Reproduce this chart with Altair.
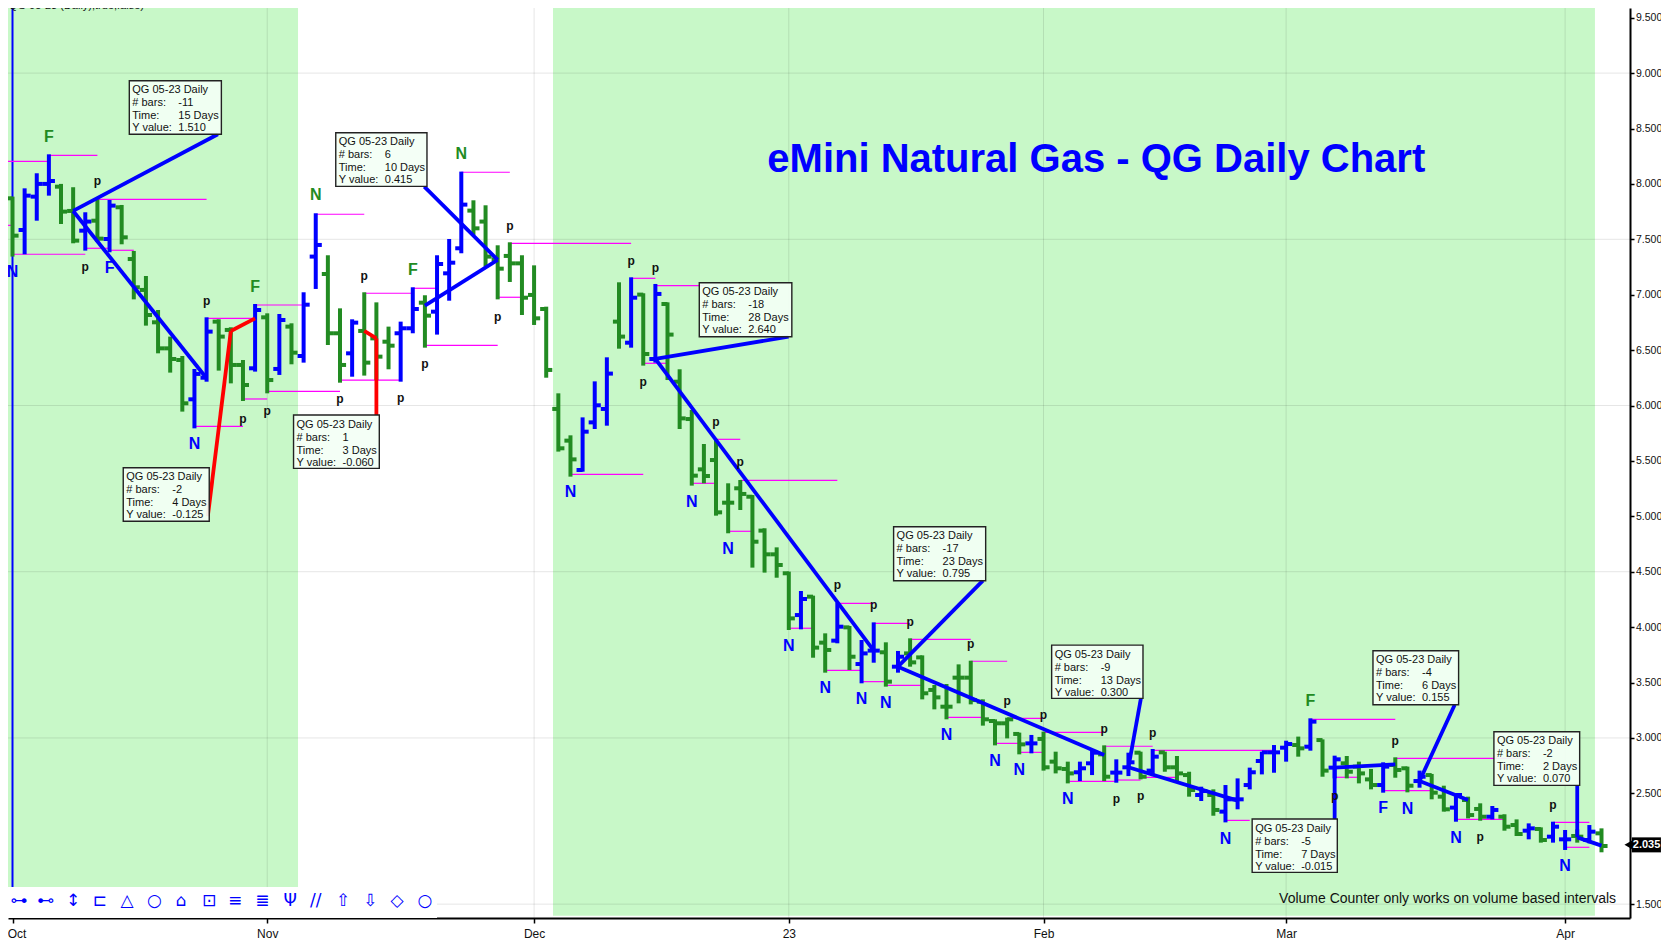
import altair as alt
import pandas as pd

# OHLC bars (bar number 0 = 1st of October)
highs = [7.885,7.960,8.096,8.267,8.0,7.97,7.744,7.861,7.855,7.81,7.395,7.169,6.862,6.622,6.447,6.33,6.796,6.778,6.706,6.411,6.916,6.832,6.826,6.742,7.022,7.735,7.356,6.877,6.778,7.022,6.931,6.712,6.757,7.067,6.995,7.356,7.503,8.111,7.852,7.807,7.446,7.473,7.356,7.265,6.892,6.11,5.731,5.893,6.218,6.435,7.112,7.157,7.013,7.097,6.931,6.327,5.96,5.653,5.698,5.298,5.328,5.192,4.892,4.72,4.501,4.326,4.284,3.944,4.221,4.01,3.884,4.043,3.863,3.785,3.899,3.745,3.478,3.487,3.664,3.697,3.348,3.168,3.183,3.048,3.027,3.057,2.876,2.786,2.786,2.891,2.933,2.807,2.867,2.876,2.9,2.876,2.837,2.695,2.56,2.536,2.575,2.635,2.732,2.876,2.936,2.975,3.012,3.177,2.987,2.84,2.837,2.786,2.72,2.78,2.825,2.741,2.705,2.675,2.569,2.5,2.47,2.41,2.386,2.311,2.265,2.229,2.193,2.244,2.169,2.175,2.214,2.184]
lows = [7.344,7.365,7.668,7.894,7.638,7.464,7.398,7.476,7.383,7.455,6.958,6.721,6.471,6.297,5.945,5.794,6.215,6.315,6.2,6.041,6.306,6.11,6.276,6.372,6.387,7.052,6.546,6.206,6.26,6.27,6.23,6.327,6.215,6.652,6.522,6.64,6.946,7.374,7.539,7.253,6.958,7.115,6.817,6.727,6.251,5.584,5.358,5.403,5.788,5.818,6.513,6.522,6.36,6.387,6.23,5.788,5.277,5.298,5.006,4.847,5.057,4.537,4.492,4.446,3.974,3.98,3.724,3.589,3.854,3.613,3.493,3.679,3.463,3.589,3.643,3.348,3.258,3.168,3.312,3.303,3.111,2.933,2.996,2.852,2.861,2.705,2.68,2.59,2.611,2.665,2.611,2.596,2.656,2.626,2.656,2.695,2.605,2.47,2.431,2.298,2.238,2.356,2.536,2.671,2.686,2.786,2.831,2.885,2.65,2.635,2.635,2.59,2.536,2.506,2.641,2.509,2.551,2.446,2.335,2.244,2.274,2.253,2.265,2.163,2.115,2.085,2.055,2.055,1.989,2.055,2.049,1.968]
opens = [7.870,7.584,7.885,8.0,7.975,7.756,7.578,7.668,7.503,7.789,7.322,7.043,6.751,6.516,6.411,6.056,6.251,6.757,6.682,6.366,6.336,6.796,6.33,6.712,6.447,7.344,7.187,6.652,6.471,6.673,6.606,6.576,6.652,6.697,6.928,6.847,7.193,7.419,7.759,7.66,7.319,7.35,7.283,6.998,6.871,5.969,5.683,5.418,5.848,5.969,6.757,6.567,7.001,6.42,6.916,6.215,5.878,5.424,5.508,5.123,5.253,5.177,4.871,4.657,4.486,4.109,4.275,3.86,3.878,3.998,3.667,3.788,3.773,3.643,3.763,3.727,3.433,3.282,3.544,3.544,3.327,3.153,3.132,3.036,2.951,2.991,2.786,2.72,2.69,2.771,2.852,2.687,2.735,2.867,2.705,2.87,2.735,2.665,2.485,2.485,2.335,2.446,2.575,2.792,2.87,2.912,2.936,2.921,2.981,2.732,2.771,2.741,2.626,2.575,2.756,2.726,2.611,2.665,2.47,2.371,2.44,2.359,2.289,2.289,2.214,2.163,2.178,2.109,2.085,2.115,2.079,2.139]
closes = [7.533,7.894,8.0,8.026,7.75,7.488,7.66,7.506,7.804,7.518,7.067,6.817,6.516,6.42,6.02,6.285,6.667,6.622,6.366,6.185,6.862,6.23,6.772,6.477,6.91,7.449,6.652,6.366,6.748,6.387,6.441,6.54,6.697,6.871,6.811,7.277,7.289,7.813,7.599,7.344,7.235,7.283,6.973,6.787,6.321,5.614,5.514,5.764,6.002,6.288,6.622,6.973,6.465,7.007,6.64,5.884,5.367,5.364,5.036,5.123,5.202,4.771,4.657,4.561,4.079,4.254,3.815,3.794,4.004,3.733,3.763,3.788,3.508,3.733,3.682,3.403,3.366,3.282,3.544,3.342,3.168,3.132,3.168,2.942,2.951,2.735,2.726,2.68,2.726,2.867,2.65,2.687,2.78,2.65,2.831,2.735,2.68,2.53,2.521,2.35,2.446,2.446,2.69,2.87,2.87,2.945,2.906,3.147,2.705,2.807,2.695,2.68,2.575,2.741,2.711,2.569,2.65,2.506,2.356,2.485,2.304,2.289,2.35,2.199,2.133,2.184,2.079,2.199,2.085,2.109,2.154,2.025]
blue_bars = [1,2,3,6,8,15,16,20,22,24,25,28,32,33,35,36,37,47,48,49,51,53,65,68,70,71,73,84,88,89,91,92,94,98,100,101,102,103,104,105,107,109,113,116,119,122,125,127,128,130]

# Axis
month_bars = [0, 21, 43, 64, 85, 105, 128]
month_names = ["Oct", "Nov", "Dec", "23", "Feb", "Mar", "Apr"]
price_ticks = [1.5,2.5,3.0,3.5,4.0,4.5,5.0,5.5,6.0,6.5,7.0,7.5,8.0,8.5,9.0,9.5]
price_grid = [1.5, 3.0, 4.5, 6.0, 7.5, 9.0]

# Session bands
band_from = [-0.371, 44.56]
band_to = [23.54, 130.46]

# Magenta swing-level lines: first bar, last bar, price
level_from = [-1,-1,3,7,0,6,8,16,20,15,19,21,25,27,29,33,34,37,40,41,46,51,53,52,56,58,59,60,64,68,67,71,70,72,74,79,77,81,82,83,85,87,90,91,93,94,100,107,114,109,113,119,127,128]
level_to = [3,0,7,16,6,8,10,20,24,19,21,27,29,32,33,35,40,41,42,51,52,53,57,54,58,60,61,68,66,71,70,74,72,75,79,82,80,83,85,85,90,91,94,93,96,104,102,114,125,111,117,123,130,130]
level_y = [8.204,7.626,8.258,7.861,7.365,7.419,7.401,6.787,6.907,5.812,6.059,6.128,7.726,6.23,7.013,7.058,6.543,8.105,6.977,7.464,5.379,7.148,7.082,6.381,5.298,5.695,4.865,5.325,3.99,4.214,3.61,4.034,3.508,3.475,3.89,3.692,3.186,2.951,3.177,2.87,3.051,2.608,2.925,2.62,2.645,2.888,2.256,3.168,2.816,2.645,2.524,2.265,2.238,2.013]

# Measured swings and their call-out leaders
seg_x = [5,5,34,40,29,30,18,18,53,53,73,73,92,92,109,109,116,116,129,129]
seg_y = [7.756,7.756,6.902,7.314,6.673,6.606,6.673,6.673,6.42,6.42,3.643,3.643,2.735,2.735,2.732,2.732,2.611,2.611,2.103,2.103]
seg_x2 = [16,16.93,40,33.95,30,30,20,16.1,71,63.98,90,80,101,93.03,114,109,120,118.9,131,129]
seg_y2 = [6.246,8.448,7.314,7.975,6.606,5.914,6.787,5.0,3.788,6.622,2.846,4.42,2.434,3.358,2.762,2.268,2.44,3.3,2.028,2.572]
seg_color = ["#0000ff"]*4 + ["#ff0000"]*4 + ["#0000ff"]*12

# Call-out boxes
box_left = [9.63,26.65,23.17,9.13,56.62,72.64,85.67,102.2,112.16,122.13]
box_right = [17.22,34.17,30.24,16.22,64.25,80.23,93.2,109.22,119.22,129.2]
box_top = [8.931,8.462,5.914,5.439,7.108,4.906,3.838,2.268,3.787,3.056]
box_bottom = [8.448,7.978,5.433,4.955,6.621,4.419,3.357,1.787,3.3,2.572]
box_bars = ["-11","6","1","-2","-18","-17","-9","-5","-4","-2"]
box_days = ["15 Days","10 Days","3 Days","4 Days","28 Days","23 Days","13 Days","7 Days","6 Days","2 Days"]
box_value = ["1.510","0.415","-0.060","-0.125","2.640","0.795","0.300","-0.015","0.155","0.070"]

# N / F markers
mark_bar = [3,0,8,20,15,25,33,37,46,56,59,64,67,70,72,77,81,83,87,100,107,113,115,119,128]
mark_y = [8.424,7.202,7.238,7.073,5.653,7.9,7.223,8.27,5.217,5.132,4.702,3.83,3.448,3.348,3.312,3.026,2.789,2.711,2.446,2.085,3.333,2.365,2.356,2.094,1.847]
mark_text = ["F","N","F","F","N","N","F","N","N","N","N","N","N","N","N","N","N","N","N","N","F","F","N","N","N"]
mark_color = ["#228b22","#0000ff","#0000ff","#228b22","#0000ff","#228b22","#228b22","#228b22"] + ["#0000ff"]*12 + ["#228b22"] + ["#0000ff"]*4

# p markers
p_bar = [7,6,16,19,21,27,29,32,34,40,41,51,53,52,58,60,68,71,74,79,82,85,90,91,93,94,114,109,121,127]
p_y = [8.026,7.25,6.943,5.878,5.951,6.059,7.172,6.068,6.375,6.799,7.62,7.304,7.241,6.209,5.852,5.49,4.38,4.2,4.05,3.848,3.333,3.207,3.081,2.449,2.476,3.045,2.975,2.476,2.103,2.395]

# Drawing-tool strip
tool_x = [0.54,2.74,5.0,7.2,9.44,11.7,13.9,16.2,18.35,20.6,22.9,25.0,27.25,29.5,31.7,34.0]
tool_glyph = ["⊶","⊷","↕","⊏","△","○","⌂","⊡","≡","≣","Ψ","//","⇧","⇩","◇","○"]

X_DOMAIN = [-0.371, 133.35]
Y_DOMAIN = [1.375, 9.5875]
xs = alt.Scale(domain=X_DOMAIN, nice=False, zero=False)
ys = alt.Scale(domain=Y_DOMAIN, nice=False, zero=False)

x_axis = alt.Axis(
    values=month_bars,
    labelExpr="%s[indexof(%s,datum.value)]" % (month_names, month_bars),
    labelOffset={"expr": "datum.value == 0 ? 4 : 0"},
    grid=False,
    title=None,
    tickSize=5,
    tickWidth=1.5,
    tickColor="#000000",
    domainColor="#000000",
    domainWidth=2,
    labelColor="#111111",
    labelFont="Liberation Sans",
    labelFontSize=12,
    labelPadding=5,
    labelFlush=False,
    labelOverlap=False,
)
y_axis = alt.Axis(
    orient="right",
    values=price_ticks,
    format=".3f",
    grid=False,
    title=None,
    tickSize=4,
    tickWidth=1.5,
    tickColor="#000000",
    domainColor="#000000",
    domainWidth=2,
    labelColor="#111111",
    labelFont="Liberation Sans",
    labelFontSize=10.5,
    labelPadding=1.5,
    labelFlush=False,
    labelOverlap=False,
)


def X(f):
    return alt.X(f, type="quantitative", scale=xs, axis=x_axis)


def Y(f):
    return alt.Y(f, type="quantitative", scale=ys, axis=y_axis)


color = alt.Color("c:N", scale=None, legend=None)
idx = list(range(len(highs)))
bar_color = ["#0000ff" if i in blue_bars else "#228b22" for i in idx]
bars = pd.DataFrame({"x": idx, "h": highs, "l": lows, "o": opens, "cl": closes, "c": bar_color})
bars["xo"] = bars.x - 0.5
bars["xc"] = bars.x + 0.5

layers = []

# bands
layers.append(
    alt.Chart(pd.DataFrame({"a": band_from, "b": band_to, "y": [1.395, 1.395], "y2": [9.5875, 9.5875]}))
    .mark_rect(color="#c8f8c8", clip=True)
    .encode(x=X("a"), x2="b", y=Y("y"), y2="y2")
)
# grid
layers.append(
    alt.Chart(pd.DataFrame({"x": month_bars}))
    .mark_rule(color="#000000", opacity=0.1, strokeWidth=1)
    .encode(x=X("x"))
)
layers.append(
    alt.Chart(pd.DataFrame({"y": price_grid}))
    .mark_rule(color="#000000", opacity=0.1, strokeWidth=1)
    .encode(y=Y("y"))
)
# cursor line at the first bar
layers.append(
    alt.Chart(pd.DataFrame({"x": [0]}))
    .mark_rule(color="#0000ff", strokeWidth=2)
    .encode(x=X("x"))
)
# levels
layers.append(
    alt.Chart(pd.DataFrame({"a": level_from, "b": level_to, "y": level_y}))
    .mark_rule(color="#ff00ff", strokeWidth=1.2, clip=True)
    .encode(x=X("a"), x2="b", y=Y("y"))
)
# OHLC
base = alt.Chart(bars)
layers.append(base.mark_rule(strokeWidth=4).encode(x=X("x"), y=Y("h"), y2="l", color=color))
layers.append(base.mark_rule(strokeWidth=4).encode(x=X("xo"), x2="x", y=Y("o"), color=color))
layers.append(base.mark_rule(strokeWidth=4).encode(x=X("x"), x2="xc", y=Y("cl"), color=color))
# swings
layers.append(
    alt.Chart(pd.DataFrame({"a": seg_x, "y": seg_y, "b": seg_x2, "y2": seg_y2, "c": seg_color}))
    .mark_rule(strokeWidth=3.8)
    .encode(x=X("a"), x2="b", y=Y("y"), y2="y2", color=color)
)
# boxes
boxes = pd.DataFrame({
    "a": box_left, "b": box_right, "t": box_top, "u": box_bottom,
    "h": ["QG 05-23 Daily"] * len(box_left),
    "v1": box_bars, "v2": box_days, "v3": box_value,
    "l1": ["# bars:"] * len(box_left), "l2": ["Time:"] * len(box_left), "l3": ["Y value:"] * len(box_left),
})
layers.append(
    alt.Chart(boxes)
    .mark_rect(fill="#f3fff5", fillOpacity=0.93, stroke="#222222", strokeWidth=1.4)
    .encode(x=X("a"), x2="b", y=Y("t"), y2="u")
)
for field, dx, dy in [("h", 3, 9.5), ("l1", 3, 22.5), ("l2", 3, 35.5), ("l3", 3, 47.5),
                      ("v1", 49, 22.5), ("v2", 49, 35.5), ("v3", 49, 47.5)]:
    layers.append(
        alt.Chart(boxes)
        .mark_text(align="left", baseline="middle", dx=dx, dy=dy, font="Liberation Sans", fontSize=11, color="#111111")
        .encode(x=X("a"), y=Y("t"), text=alt.Text(field + ":N"))
    )
# N/F
layers.append(
    alt.Chart(pd.DataFrame({"x": mark_bar, "y": mark_y, "t": mark_text, "c": mark_color}))
    .mark_text(font="Liberation Sans", fontWeight="bold", fontSize=16, baseline="middle", align="center")
    .encode(x=X("x"), y=Y("y"), text="t:N", color=color)
)
layers.append(
    alt.Chart(pd.DataFrame({"x": p_bar, "y": p_y, "t": ["p"] * len(p_bar)}))
    .mark_text(font="Liberation Sans", fontWeight="bold", fontSize=12, baseline="middle", align="center", color="#111111")
    .encode(x=X("x"), y=Y("y"), text="t:N")
)
# titles
layers.append(
    alt.Chart(pd.DataFrame({"x": [89.35], "y": [8.216], "t": ["eMini Natural Gas - QG Daily Chart"]}))
    .mark_text(font="Liberation Sans", fontWeight="bold", fontSize=40, color="#0000ff", baseline="middle", align="center")
    .encode(x=X("x"), y=Y("y"), text="t:N")
)
layers.append(
    alt.Chart(pd.DataFrame({"x": [132.2], "y": [1.55], "t": ["Volume Counter only works on volume based intervals"]}))
    .mark_text(font="Liberation Sans", fontSize=14, color="#111111", baseline="middle", align="right")
    .encode(x=X("x"), y=Y("y"), text="t:N")
)
layers.append(
    alt.Chart(pd.DataFrame({"x": [-0.3], "y": [9.56], "t": ["QG 05-23 (Daily),true,false)"]}))
    .mark_text(font="Liberation Sans", fontSize=11, color="#111111", baseline="bottom", align="left", clip=True)
    .encode(x=X("x"), y=Y("y"), text="t:N")
)
# tool strip
layers.append(
    alt.Chart(pd.DataFrame({"a": [-0.371], "b": [35.0], "y": [1.654], "y2": [1.375]}))
    .mark_rect(color="#ffffff", clip=True)
    .encode(x=X("a"), x2="b", y=Y("y"), y2="y2")
)
layers.append(
    alt.Chart(pd.DataFrame({"x": tool_x, "t": tool_glyph, "y": [1.528] * len(tool_x)}))
    .mark_text(font="DejaVu Sans", fontSize=17, color="#0000ff", baseline="middle", align="center")
    .encode(x=X("x"), y=Y("y"), text="t:N")
)
# last-price tag
layers.append(
    alt.Chart(pd.DataFrame({"a": [133.5], "b": [135.9], "y": [2.035]}))
    .mark_rect(color="#000000", height=15)
    .encode(x=X("a"), x2="b", y=Y("y"))
)
layers.append(
    alt.Chart(pd.DataFrame({"x": [133.3], "y": [2.035]}))
    .mark_point(shape="triangle-left", filled=True, color="#000000", size=130, opacity=1)
    .encode(x=X("x"), y=Y("y"))
)
layers.append(
    alt.Chart(pd.DataFrame({"x": [135.85], "y": [2.035], "t": ["2.035"]}))
    .mark_text(font="Liberation Sans", fontWeight="bold", fontSize=11, color="#ffffff", baseline="middle", align="right")
    .encode(x=X("x"), y=Y("y"), text="t:N")
)

chart = (
    alt.layer(*layers)
    .properties(
        width=1622,
        height=910,
        autosize=alt.AutoSizeParams(type="none"),
        padding={"left": 0, "top": 0, "right": 31, "bottom": 22},
        background="#ffffff",
    )
    .configure_view(stroke=None)
)

chart.save("out.html", embed_options={"renderer": "svg", "actions": False})
